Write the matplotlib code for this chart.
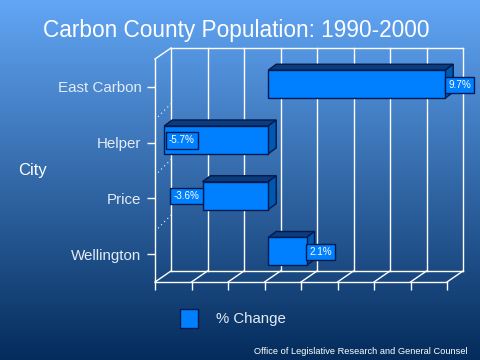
import matplotlib
matplotlib.use('Agg')
import matplotlib.pyplot as plt
from matplotlib.patches import Polygon
from matplotlib.transforms import Affine2D
import numpy as np

plt.rcParams['font.family'] = ['Liberation Sans', 'DejaVu Sans']

# Data
cities = ['East Carbon', 'Helper', 'Price', 'Wellington']
pct_change = [9.7, -5.7, -3.6, 2.1]
pct_labels = ['9.7%', '-5.7%', '-3.6%', '2.1%']
x_ticks = [-6, -4, -2, 0, 2, 4, 6, 8, 10]

W, H = 480, 360
BG_TOP = np.array([98, 166, 245]) / 255
BG_BOTTOM = np.array([4, 44, 92]) / 255
BAR_FRONT = '#0080ff'
BAR_TOP = '#0c3c7c'
BAR_SIDE = '#0058b0'
EDGE = '#001a50'

fig = plt.figure(figsize=(4.8, 3.6), dpi=100)

# Background gradient
bg = fig.add_axes([0, 0, 1, 1], zorder=0)
t = np.linspace(0, 1, H)[:, None, None]
bg.imshow(BG_TOP * (1 - t) + BG_BOTTOM * t, aspect='auto', extent=(0, W, H, 0))
bg.set_xlim(0, W)
bg.set_ylim(H, 0)
bg.axis('off')

# Main axes sits on the front plane of the fake 3D box
left, right, top, bottom = 155.0, 447.0, 59.0, 282.0
ax = fig.add_axes([left / W, 1 - bottom / H, (right - left) / W, (bottom - top) / H], zorder=1)
ax.patch.set_alpha(0)
ax.set_xlim(-6, 10)
ax.set_ylim(3.5, -0.5)
for s in ['top', 'right']:
    ax.spines[s].set_visible(False)
for s in ['left', 'bottom']:
    ax.spines[s].set_color('white')
    ax.spines[s].set_linewidth(1)
ax.set_xticks(x_ticks)
ax.set_xticklabels([])
ax.set_yticks(range(len(cities)))
ax.set_yticklabels(cities, fontsize=10.9, color='#e4ecf6')
ax.tick_params(axis='both', color='white', width=1, length=5.8)
ax.tick_params(axis='y', pad=4)


def shifted(dx, dy):
    # pixel shift in image coordinates (y down), dpi is 100 so 1 display unit = 1 px
    return ax.transData + Affine2D().translate(dx, -dy)


# Walls
back = shifted(16, -11)
front = ax.transData
for x in x_ticks:
    ax.plot([x, x], [-0.5, 3.5], color='white', lw=1, transform=back, clip_on=False, zorder=1)
    x0, y0 = front.transform((x, 3.5))
    x1, y1 = back.transform((x, 3.5))
    ax.plot([x0, x1], [y0, y1], color='white', lw=1, transform=None, clip_on=False, zorder=1)
ax.plot([-6, 10], [-0.5, -0.5], color='white', lw=1, transform=back, clip_on=False, zorder=1)
ax.plot([-6, 10], [3.5, 3.5], color='white', lw=1, transform=back, clip_on=False, zorder=1)
x0, y0 = front.transform((-6, -0.5))
x1, y1 = back.transform((-6, -0.5))
ax.plot([x0, x1], [y0, y1], color='white', lw=1, transform=None, clip_on=False, zorder=1)
for y in [0.5, 1.5, 2.5]:
    x0, y0 = front.transform((-6, y))
    x1, y1 = back.transform((-6, y))
    ax.plot([x0 + 3, x1], [y0 - 2, y1], color='white', lw=0.8, ls=(0, (1, 3)),
            transform=None, clip_on=False, zorder=1)

# Bars, front face is pushed a little into the box
face = shifted(3.7, -2.7)
bar_h = 0.5
ddx, ddy = 8, 6
for i, v in enumerate(pct_change):
    lo, hi = min(v, 0), max(v, 0)
    (xa, yt), (xb, yb) = face.transform([(lo, i - bar_h / 2), (hi, i + bar_h / 2)])
    ax.add_patch(Polygon([(xa, yt), (xa + ddx, yt + ddy), (xb + ddx, yt + ddy), (xb, yt)],
                         transform=None, fc=BAR_TOP, ec=EDGE, lw=1, zorder=2, clip_on=False))
    ax.add_patch(Polygon([(xb, yt), (xb + ddx, yt + ddy), (xb + ddx, yb + ddy), (xb, yb)],
                         transform=None, fc=BAR_SIDE, ec=EDGE, lw=1, zorder=2, clip_on=False))
ax.barh(range(len(cities)), pct_change, height=bar_h, color=BAR_FRONT, edgecolor=EDGE,
        linewidth=1, transform=face, zorder=3, clip_on=False)

# Value labels
box = dict(boxstyle='square,pad=0.32', fc=BAR_FRONT, ec=EDGE, lw=1)
for i, (v, lab) in enumerate(zip(pct_change, pct_labels)):
    if lab == '-5.7%':
        # no room left of the axis, so it sits inside the bar
        ha, off = 'left', 4.5
    elif v < 0:
        ha, off = 'right', -3
    else:
        ha, off = 'left', 3
    ax.text(v, i, lab, fontsize=7.1, color='white', ha=ha, va='center', bbox=box,
            transform=shifted(3.7 + off, -2.2), zorder=4, clip_on=False)

# Text in image pixel coordinates, on the background axes
over = fig.add_axes([0, 0, 1, 1], zorder=2)
over.set_xlim(0, W)
over.set_ylim(H, 0)
over.axis('off')
over.text(236, 31, 'Carbon County Population: 1990-2000', fontsize=16.3, color='white',
          ha='center', va='center')
over.text(18, 171, 'City', fontsize=12, color='white', ha='left', va='center')
over.fill([180, 198, 198, 180], [309, 309, 328, 328], fc=BAR_FRONT, ec=EDGE, lw=1)
over.text(216, 319, '% Change', fontsize=10.8, color='#e4ecf6', ha='left', va='center')
over.text(254, 352, 'Office of Legislative Research and General Counsel', fontsize=6.65,
          color='white', ha='left', va='center')

fig.savefig('out.png', dpi=100)
